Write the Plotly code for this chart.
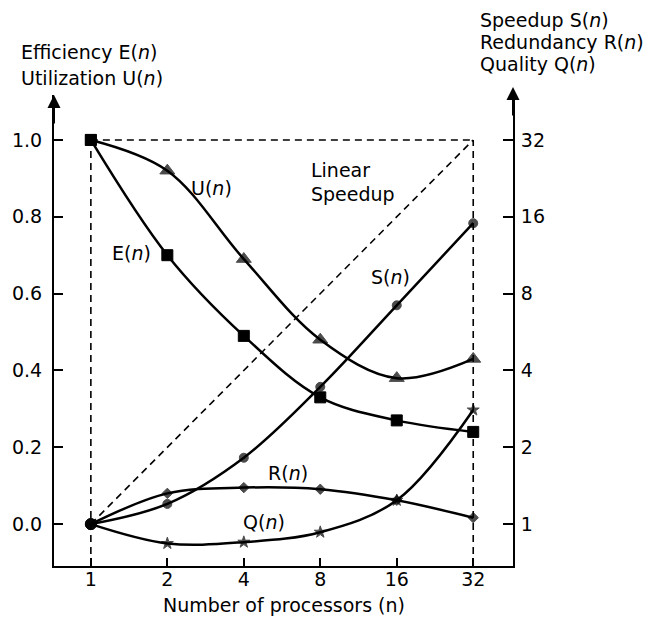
import math
import plotly.graph_objects as go

# ---- data ----
n_procs = [1, 2, 4, 8, 16, 32]
efficiency = [1.0, 0.70, 0.49, 0.33, 0.27, 0.24]
utilization = [1.0, 0.92, 0.69, 0.48, 0.38, 0.43]
speedup = [1.0, 1.2, 1.82, 3.45, 7.2, 15.1]
redundancy = [1.0, 1.32, 1.39, 1.37, 1.24, 1.06]
quality = [1.0, 0.84, 0.85, 0.93, 1.24, 2.8]
linear_speedup = [1, 2, 4, 8, 16, 32]
left_ticks = [0.0, 0.2, 0.4, 0.6, 0.8, 1.0]
right_ticks = [1, 2, 4, 8, 16, 32]

FONT = "DejaVu Sans, Liberation Sans, Arial, sans-serif"
BLACK = "black"
LW = 2.5
FS = 19

# geometry (pixels)
W, H = 645, 620
ML, MR, MT, MB = 52, 132, 95, 54
PW = W - ML - MR
PH = H - MT - MB

oct_lo, oct_hi = -0.482, 5.52
x_range = [oct_lo * math.log10(2), oct_hi * math.log10(2)]
y_lo, y_hi = -0.109, 1.117
y_range = [y_lo, y_hi]
y2_range = [5 * y_lo * math.log10(2), 5 * y_hi * math.log10(2)]

fig = go.Figure()

dash = "7px,5px"
mline = dict(color=BLACK, width=1)

# reference dashed lines
fig.add_trace(go.Scatter(x=[n_procs[0], n_procs[-1]], y=[1.0, 1.0], mode="lines",
                         line=dict(color=BLACK, width=1.6, dash=dash), yaxis="y",
                         hoverinfo="skip", showlegend=False))
fig.add_trace(go.Scatter(x=n_procs, y=linear_speedup, mode="lines",
                         line=dict(color=BLACK, width=1.6, dash=dash), yaxis="y2",
                         hoverinfo="skip", showlegend=False))

# E(n), U(n) on left axis
fig.add_trace(go.Scatter(x=n_procs, y=utilization, mode="lines+markers",
                         line=dict(color=BLACK, width=LW, shape="spline", smoothing=1),
                         marker=dict(symbol=["square"] + ["triangle-up"] * 5, size=[11] + [13] * 5,
                                     color=BLACK, line=mline),
                         yaxis="y", showlegend=False))
fig.add_trace(go.Scatter(x=n_procs, y=efficiency, mode="lines+markers",
                         line=dict(color=BLACK, width=LW, shape="spline", smoothing=1),
                         marker=dict(symbol="square", size=11, color=BLACK, line=mline),
                         yaxis="y", showlegend=False))

# S(n), R(n), Q(n) on right axis
fig.add_trace(go.Scatter(x=n_procs, y=speedup, mode="lines+markers",
                         line=dict(color=BLACK, width=LW, shape="spline", smoothing=1),
                         marker=dict(symbol="circle", size=[11] + [9] * 5, color=BLACK, line=mline),
                         yaxis="y2", showlegend=False))
fig.add_trace(go.Scatter(x=n_procs, y=redundancy, mode="lines+markers",
                         line=dict(color=BLACK, width=LW, shape="spline", smoothing=1),
                         marker=dict(symbol=["circle"] + ["diamond"] * 5, size=[11] + [8] * 5,
                                     color=BLACK, line=mline),
                         yaxis="y2", showlegend=False))
fig.add_trace(go.Scatter(x=n_procs, y=quality, mode="lines+markers",
                         line=dict(color=BLACK, width=LW, shape="spline", smoothing=1),
                         marker=dict(symbol=["circle"] + ["star"] * 5, size=[11] + [9] * 5,
                                     color=BLACK, line=mline),
                         yaxis="y2", showlegend=False))

shapes = []
for xv in (n_procs[0], n_procs[-1]):
    shapes.append(dict(type="line", xref="x", yref="y", x0=xv, x1=xv, y0=y_lo, y1=1.0,
                       line=dict(color=BLACK, width=1.6, dash=dash)))

def px_to_paper(px, py):
    return (px - ML) / PW, (H - MB - py) / PH

annotations = []

def text_at(txt, px, py, xanchor="center", size=FS):
    x, y = px_to_paper(px, py)
    annotations.append(dict(text=txt, x=x, y=y, xref="paper", yref="paper",
                            xanchor=xanchor, yanchor="middle", showarrow=False,
                            font=dict(family=FONT, size=size, color=BLACK)))

# in-plot labels
text_at("U(<i>n</i>)", 210, 188)
text_at("E(<i>n</i>)", 130, 253)
text_at("Linear", 308, 170, xanchor="left")
text_at("Speedup", 308, 194, xanchor="left")
text_at("S(<i>n</i>)", 390, 277)
text_at("R(<i>n</i>)", 287, 473)
text_at("Q(<i>n</i>)", 263, 522)

# axis titles
text_at("Efficiency E(<i>n</i>)", 17, 52, xanchor="left")
text_at("Utilization U(<i>n</i>)", 17, 78, xanchor="left")
text_at("Speedup S(<i>n</i>)", 478, 20, xanchor="left")
text_at("Redundancy R(<i>n</i>)", 478, 42, xanchor="left")
text_at("Quality Q(<i>n</i>)", 478, 64, xanchor="left")
text_at("Number of processors (n)", 283, 605)

# arrows at top of vertical axes
for xp, tip in ((0, 95), (1, 87)):
    _, yp = px_to_paper(0, tip)
    annotations.append(dict(x=xp, y=yp, xref="paper", yref="paper", text="",
                            showarrow=True, ax=0, ay=30, arrowhead=2, arrowsize=1.3,
                            arrowwidth=2, arrowcolor=BLACK, standoff=0))

axis_common = dict(showgrid=False, zeroline=False, showline=True, linecolor=BLACK,
                   linewidth=2, ticks="inside", tickcolor=BLACK, tickwidth=2,
                   tickfont=dict(family=FONT, size=FS, color=BLACK))

fig.update_layout(
    width=W, height=H,
    margin=dict(l=ML, r=MR, t=MT, b=MB, pad=0),
    paper_bgcolor="white", plot_bgcolor="white",
    xaxis=dict(type="log", range=x_range, tickvals=n_procs,
               ticktext=[str(v) for v in n_procs], ticklen=8, **axis_common),
    yaxis=dict(range=y_range, tickvals=left_ticks,
               ticktext=[f"{v:.1f}" for v in left_ticks], ticklen=9,
               ticklabelstandoff=6, **axis_common),
    yaxis2=dict(type="log", range=y2_range, overlaying="y", side="right",
                tickvals=right_ticks, ticktext=[str(v) for v in right_ticks],
                ticklen=10, ticklabelstandoff=2, **axis_common),
    shapes=shapes,
    annotations=annotations,
    showlegend=False,
)

try:
    fig.layout.xaxis.ticklabelstandoff = -5
except Exception:
    pass

fig.write_html("out.html")
